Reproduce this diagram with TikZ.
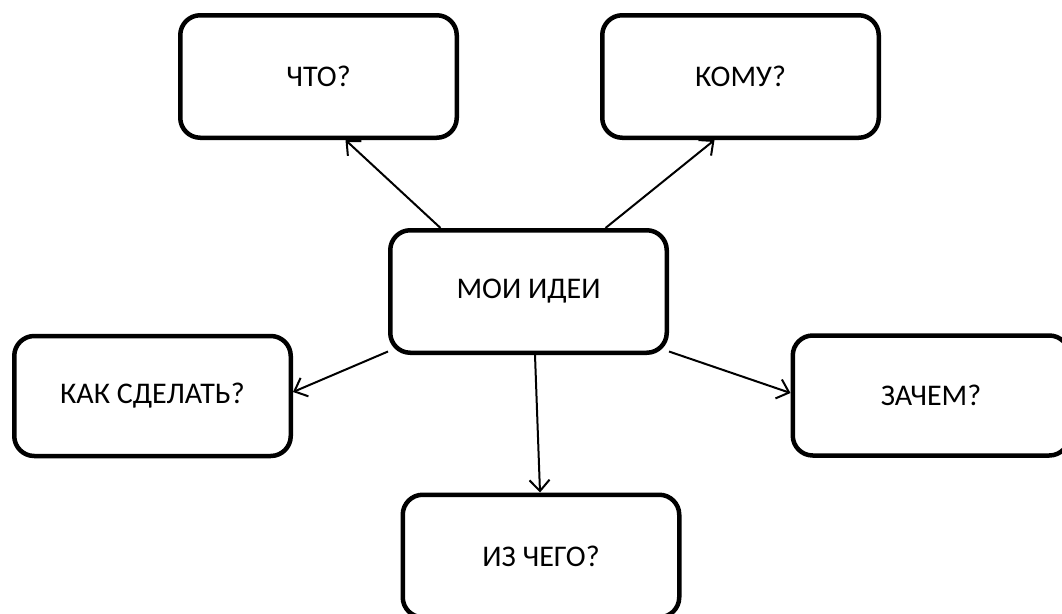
\documentclass[tikz,border=0pt]{standalone}
\usepackage{fontspec}
\setmainfont{Carlito}
\usetikzlibrary{arrows.meta}
\begin{document}
\begin{tikzpicture}[x=1pt,y=-1pt,
  idea/.style={draw=black, line width=4.5pt, rounded corners=20pt, fill=white,
    minimum width=276.5pt, minimum height=122.5pt, inner sep=0pt,
    font=\fontsize{30}{36}\selectfont, text=black},
  link/.style={draw=black, line width=2pt, -{Straight Barb[length=11pt,width=20pt,line width=2pt]}}]
\useasboundingbox (0,0) rectangle (1062,613);
\clip (0,0) rectangle (1062,613);
\node[idea] (chto) at (318.5,76.5) {ЧТО?};
\node[idea] (komu) at (740.5,76.5) {КОМУ?};
\node[idea] (moi) at (528.5,291.5) {МОИ ИДЕИ};
\node[idea, minimum height=120pt] (kak) at (152.5,396) {КАК СДЕЛАТЬ?};
\node[idea, minimum height=120pt] (zachem) at (931,395.5) {ЗАЧЕМ?};
\node[idea] (iz) at (541,556) {ИЗ ЧЕГО?};
\draw[link] ([xshift=-88pt]moi.north) -- ([xshift=27pt]chto.south);
\draw[link] ([xshift=77pt]moi.north) -- ([xshift=-26pt]komu.south);
\draw[link] ([yshift=-60pt]moi.west) -- ([yshift=4pt]kak.east);
\draw[link] ([yshift=-60pt]moi.east) -- ([yshift=2.5pt]zachem.west);
\draw[link] ([xshift=6.5pt]moi.south) -- ([xshift=-1pt]iz.north);
\end{tikzpicture}
\end{document}
